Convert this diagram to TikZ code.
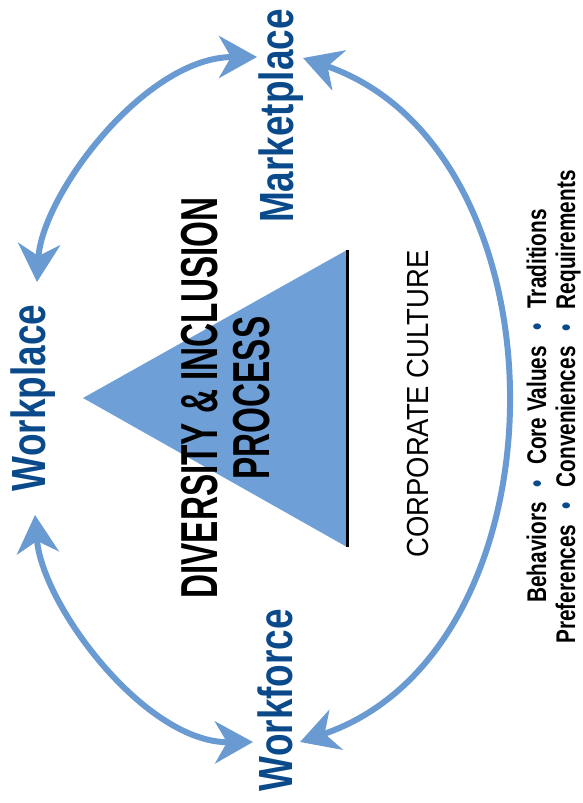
\documentclass[tikz,border=0pt]{standalone}
\usepackage{fontspec}
\setmainfont{Liberation Sans}
\newfontfamily\placefont[FakeStretch=0.77]{Liberation Sans}
\newfontfamily\titlefont[FakeStretch=0.64]{Liberation Sans}
\newfontfamily\culturefont[FakeStretch=0.9]{Liberation Sans}
\usetikzlibrary{arrows.meta}
\definecolor{placeblue}{HTML}{0B4A8A}
\definecolor{arcblue}{HTML}{6A9AD2}
\definecolor{triblue}{HTML}{6F9FD7}
\newcommand{\dotsep}{\hspace{15pt}{\color{placeblue}\textbullet}\hspace{15pt}}

\begin{document}
\begin{tikzpicture}[x=1pt,y=-1pt,
        >={Stealth[length=38pt,width=42pt,inset=12pt]},
        place/.style={rotate=90,anchor=base,inner sep=0pt,text=placeblue,font=\placefont\bfseries\fontsize{48}{48}\selectfont},
        trait/.style={rotate=90,anchor=base,inner sep=0pt,font=\placefont\bfseries\fontsize{27}{27}\selectfont},
        arc/.style={draw=arcblue,line width=6pt,<->}]
        \useasboundingbox (0,0) rectangle (582,803);
        \coordinate (apex) at (83,398);
        \coordinate (top) at (347,250);
        \coordinate (bot) at (347,547);
        \fill[triblue] (apex) -- (top) -- (bot) -- cycle;
        \draw[line width=3pt] (top) -- (bot);
        \node[place] (mkt) at (293,116) {Marketplace};
        \node[place] (wkp) at (45,398) {Workplace};
        \node[place] (wkf) at (292,700) {Workforce};
        \node[rotate=90,align=center,inner sep=0pt,font=\titlefont\bfseries\fontsize{52}{52}\selectfont] (dip) at (226,398) {DIVERSITY \& INCLUSION\\PROCESS};
        \node[rotate=90,anchor=base,inner sep=0pt,font=\culturefont\fontsize{30.5}{30.5}\selectfont] (cult) at (428,404) {CORPORATE CULTURE};
        \node[trait] (tra) at (546,406) {Behaviors\dotsep Core Values\dotsep Traditions};
        \node[trait] (trb) at (575,407) {Preferences\dotsep Conveniences\dotsep Requirements};
        \coordinate (mktL) at (257,57);
        \coordinate (mktR) at (303,58);
        \coordinate (wkpT) at (37,282);
        \coordinate (wkpB) at (35,515);
        \coordinate (wkfL) at (253,742);
        \coordinate (wkfR) at (300,742);
        \draw[arc] (mktL) .. controls (145,57) and (42,195) .. (wkpT);
        \draw[arc] (wkpB) .. controls (42,605) and (145,743) .. (wkfL);
        \draw[arc] (mktR) .. controls (572,150) and (572,650) .. (wkfR);
\end{tikzpicture}
\end{document}
